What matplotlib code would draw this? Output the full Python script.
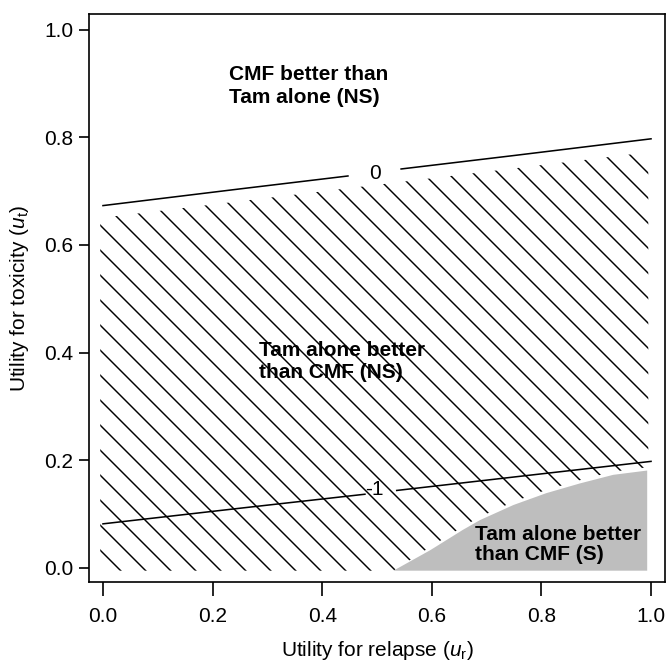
import matplotlib
matplotlib.use("Agg")
import matplotlib.pyplot as plt
import numpy as np

plt.rcParams["font.family"] = ["Liberation Sans", "DejaVu Sans"]
plt.rcParams["mathtext.fontset"] = "custom"
plt.rcParams["mathtext.rm"] = "Liberation Sans"
plt.rcParams["mathtext.it"] = "Liberation Sans:italic"
plt.rcParams["hatch.linewidth"] = 0.7

# contour lines (utility for relapse -> utility for toxicity), NaN = gap for label
ur_zero = [0.0, 0.25, 0.447, np.nan, 0.544, 0.75, 1.0]
ut_zero = [0.673, 0.704, 0.728, np.nan, 0.741, 0.766, 0.797]
ur_minus1 = [0.0, 0.25, 0.478, np.nan, 0.536, 0.75, 1.0]
ut_minus1 = [0.082, 0.111, 0.137, np.nan, 0.144, 0.169, 0.198]

# region where Tam alone is significantly better (grey)
ur_sig = [0.530, 0.597, 0.657, 0.688, 0.749, 0.809, 0.870, 0.931, 0.993]
ut_sig = [-0.005, 0.033, 0.071, 0.089, 0.117, 0.139, 0.157, 0.173, 0.181]

# upper edge of the hatched (NS) region
ur_ns_top = [-0.005, 0.995]
ut_ns_top = [0.650, 0.772]

fig = plt.figure(figsize=(666 / 150, 662 / 150), dpi=150)
ax = fig.add_axes([89 / 666, 1 - 582 / 662, 576 / 666, 568 / 662])

# hatched region: between lower edge (y=0 / grey region) and upper edge
x_h = np.array([-0.005] + ur_sig + [0.995])
low_h = np.array([-0.005] + [v + 0.006 for v in ut_sig] + [0.187])
low_h[1] = -0.005
top_h = np.interp(x_h, ur_ns_top, ut_ns_top)
ax.fill_between(x_h, low_h, top_h, facecolor="none", edgecolor="black",
                hatch="\\\\", linewidth=0, zorder=1)

ax.fill_between(ur_sig, -0.005, ut_sig, facecolor="#bebebe", edgecolor="none", zorder=2)

ax.plot(ur_zero, ut_zero, color="black", linewidth=0.75, zorder=3)
ax.plot(ur_minus1, ut_minus1, color="black", linewidth=0.75, zorder=3)
ax.text(0.497, 0.733, "0", ha="center", va="center", fontsize=10, zorder=4)
ax.text(0.496, 0.145, "-1", ha="center", va="center", fontsize=10, zorder=4)

ax.text(0.23, 0.895, "CMF better than\nTam alone (NS)", fontsize=10,
        fontweight="bold", ha="left", va="center", linespacing=1.25, zorder=4)
ax.text(0.285, 0.383, "Tam alone better\nthan CMF (NS)", fontsize=10,
        fontweight="bold", ha="left", va="center", linespacing=1.2, zorder=4)
ax.text(0.679, 0.044, "Tam alone better\nthan CMF (S)", fontsize=10,
        fontweight="bold", ha="left", va="center", linespacing=1.1, zorder=4)

ax.set_xlim(-0.0255, 1.0255)
ax.set_ylim(-0.026, 1.0288)
ax.set_xticks(np.arange(0, 1.01, 0.2))
ax.set_yticks(np.arange(0, 1.01, 0.2))
ax.set_xticklabels([f"{v:.1f}" for v in np.arange(0, 1.01, 0.2)])
ax.set_yticklabels([f"{v:.1f}" for v in np.arange(0, 1.01, 0.2)])
ax.tick_params(axis="x", length=6.7, width=0.8, pad=5.5, labelsize=10)
ax.tick_params(axis="y", length=4.8, width=0.8, pad=2.8, labelsize=10)
for s in ax.spines.values():
    s.set_linewidth(0.8)

ax.set_xlabel(r"Utility for relapse ($\mathit{u}_{\mathrm{r}}$)", fontsize=10, labelpad=6)
ax.set_ylabel(r"Utility for toxicity ($\mathit{u}_{\mathrm{t}}$)", fontsize=10, labelpad=6)

fig.savefig("out.png", dpi=150)
